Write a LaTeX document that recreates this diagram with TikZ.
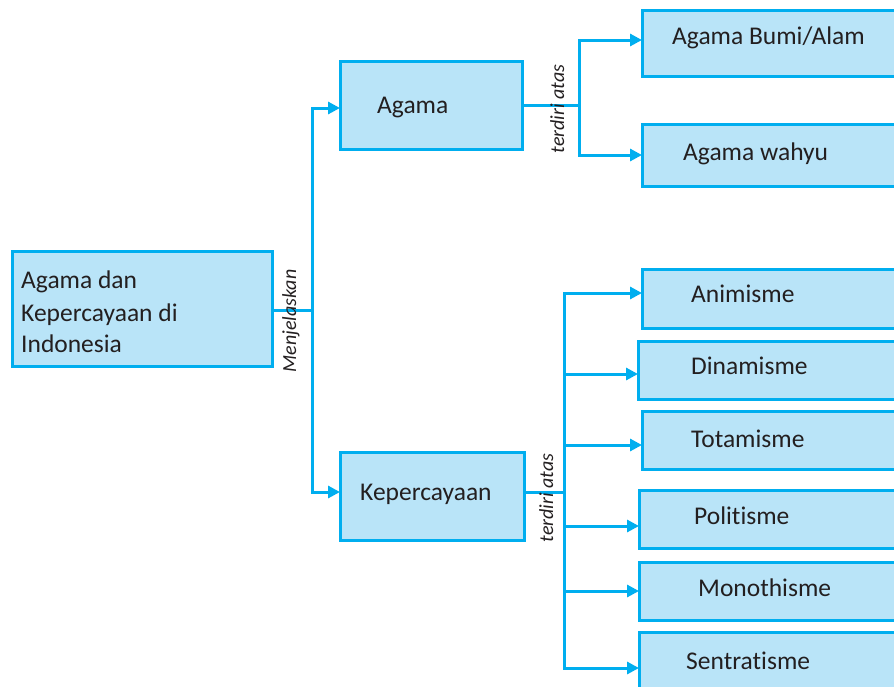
\documentclass[tikz,border=0pt]{standalone}
\usepackage{fontspec}
\setmainfont[RawFeature={-liga;-dlig;-clig}]{Carlito}
\usetikzlibrary{arrows.meta}
\definecolor{boxfill}{HTML}{B9E4F8}
\definecolor{lineblue}{HTML}{00AEEF}
\definecolor{ink}{HTML}{231F20}
\begin{document}
\begin{tikzpicture}[x=1pt,y=-1pt,
  box/.style={draw=lineblue, fill=boxfill, line width=3pt, rectangle, anchor=north west, inner sep=0pt, outer sep=0pt},
  txt/.style={anchor=base west, inner sep=0pt, text=ink, font=\fontsize{25.5}{30}\selectfont},
  lbl/.style={rotate=90, anchor=base, inner sep=0pt, text=ink, font=\itshape\fontsize{20}{24}\selectfont},
  conn/.style={draw=lineblue, line width=3pt},
  arr/.style={conn, -{Triangle[length=12pt,width=12pt]}}]
\clip (0,0) rectangle (894,686);
\fill[white] (0,0) rectangle (894,686);
% boxes
\node[box, minimum width=260pt, minimum height=115pt] (main) at (12,251) {};
\node[box, minimum width=182pt, minimum height=88pt] (agama) at (340,61) {};
\node[box, minimum width=184pt, minimum height=88pt] (kep) at (340,452) {};
\node[box, minimum width=270pt, minimum height=66pt] (bumi) at (642,10) {};
\node[box, minimum width=270pt, minimum height=62pt] (wahyu) at (642,124) {};
\node[box, minimum width=270pt, minimum height=59pt] (ani) at (642,269) {};
\node[box, minimum width=274pt, minimum height=58pt] (din) at (638,341) {};
\node[box, minimum width=270pt, minimum height=58pt] (tot) at (642,411) {};
\node[box, minimum width=273pt, minimum height=58pt] (pol) at (639,490) {};
\node[box, minimum width=273pt, minimum height=58pt] (mon) at (639,562) {};
\node[box, minimum width=273pt, minimum height=72pt] (sen) at (639,632) {};
% texts
\node[txt] (mt1) at (21,288) {Agama dan};
\node[txt] (mt2) at (21,321) {Kepercayaan di};
\node[txt] (mt3) at (21,352) {Indonesia};
\node[txt] (tagama) at (377,113) {Agama};
\node[txt] (tkep) at (360,500) {Kepercayaan};
\node[txt] (tbumi) at (672,44) {Agama Bumi/Alam};
\node[txt] (twahyu) at (683,160) {Agama wahyu};
\node[txt] (tani) at (691,302) {Animisme};
\node[txt] (tdin) at (691,374) {Dinamisme};
\node[txt] (ttot) at (691,447) {Totamisme};
\node[txt] (tpol) at (694,524) {Politisme};
\node[txt] (tmon) at (698,596) {Monothisme};
\node[txt] (tsen) at (686,669) {Sentratisme};
% junctions
\coordinate (x1) at (312,0);
\coordinate (x2) at (579,0);
\coordinate (x3) at (564,0);
\coordinate (b1) at ([yshift=-1.5pt]main.east -| x1);
\coordinate (b2) at (agama.east -| x2);
\coordinate (b3) at ([yshift=4pt]kep.east -| x3);
% connectors
\draw[conn] ([yshift=-1.5pt]main.east) -- (b1);
\draw[arr] (b1) |- ([yshift=-3pt]agama.west);
\draw[arr] (b1) |- ([yshift=4pt]kep.west);
\draw[conn] (agama.east) -- (b2);
\draw[arr] (b2) |- ([yshift=3pt]bumi.west);
\draw[arr] (b2) |- (wahyu.west);
\draw[conn] ([yshift=4pt]kep.east) -- (b3);
\draw[arr] (b3) |- ([yshift=5.5pt]ani.west);
\draw[arr] (b3) |- ([yshift=-4pt]din.west);
\draw[arr] (b3) |- ([yshift=-5pt]tot.west);
\draw[arr] (b3) |- ([yshift=-7pt]pol.west);
\draw[arr] (b3) |- (mon.west);
\draw[arr] (b3) |- (sen.west);
% labels
\node[lbl] (l1) at (296,321) {Menjelaskan};
\node[lbl] (l2) at (564,109) {terdiri atas};
\node[lbl] (l3) at (553,498) {terdiri atas};
\end{tikzpicture}
\end{document}
